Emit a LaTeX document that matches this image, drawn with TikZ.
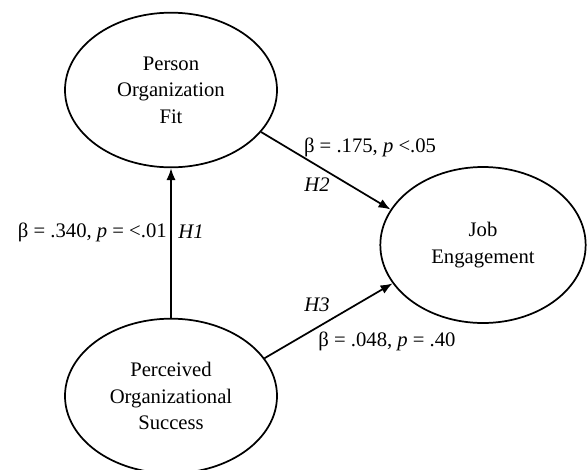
\documentclass[tikz,border=0pt]{standalone}
\usepackage{fontspec}
\setmainfont{Liberation Serif}
\usetikzlibrary{shapes.geometric,arrows.meta}
\begin{document}
\begin{tikzpicture}[x=0.75pt,y=-0.75pt,
  latent/.style={draw,ellipse,line width=1.3pt,align=center,font=\fontsize{15.5}{20}\selectfont,inner sep=0pt},
  path/.style={line width=1.3pt,-{Latex[length=9pt,width=7pt]}},
  lab/.style={font=\fontsize{15.5}{20}\selectfont,inner sep=0pt}]
\useasboundingbox (0,0) rectangle (587,469);
\node[latent,minimum width=159pt,minimum height=116pt] (pof) at (171,90) {Person\\Organization\\Fit};
\node[latent,minimum width=154pt,minimum height=117pt] (je) at (483,245) {Job\\Engagement};
\node[latent,minimum width=159pt,minimum height=116pt] (pos) at (171,396) {Perceived\\Organizational\\Success};
\draw[path] (pos.north) -- (pof.south);
\draw[path] (pof.-25.5) -- (je.159);
\draw[path] (pos.22.5) -- (je.203);
\node[lab,anchor=east] (l1) at (167,232) {β = .340, \textit{p} = <.01};
\node[lab] (h1) at (191,232) {\textit{H1}};
\node[lab] (l2) at (370,147) {β = .175, \textit{p} <.05};
\node[lab] (h2) at (317,185) {\textit{H2}};
\node[lab] (h3) at (317,305) {\textit{H3}};
\node[lab] (l3) at (387,341) {β = .048, \textit{p} = .40};
\end{tikzpicture}
\end{document}
